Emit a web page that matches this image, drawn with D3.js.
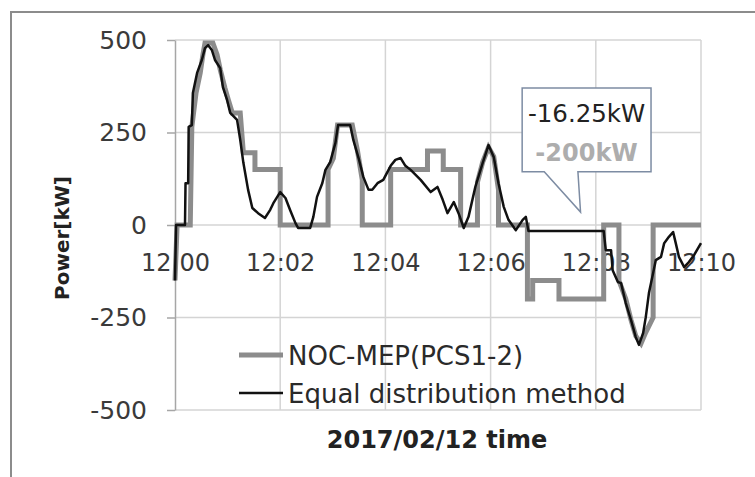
<!DOCTYPE html>
<html><head><meta charset="utf-8">
<script src="https://cdn.jsdelivr.net/npm/d3@7"></script>
<style>body{margin:0;background:#fff}svg{display:block}</style>
</head><body><svg id="c" width="755" height="477"></svg>
<script>
// ---- data (minutes after 12:00, power in kW) ----
const xTickValues = [0, 2, 4, 6, 8, 10];
const xTickLabels = ["12:00", "12:02", "12:04", "12:06", "12:08", "12:10"];
const yTickValues = [-500, -250, 0, 250, 500];
const yTickLabels = ["-500", "-250", "0", "250", "500"];
const seriesNames = ["NOC-MEP(PCS1-2)", "Equal distribution method"];
const calloutLabels = ["-16.25kW", "-200kW"];

const nocTime = [0, 0.04, 0.29, 0.32, 0.4, 0.48, 0.53, 0.57, 0.72, 0.8, 0.86, 0.95, 1.01, 1.09, 1.24, 1.3, 1.52, 1.52, 2.0, 2.0,
  2.91, 2.91, 3.01, 3.09, 3.37, 3.47, 3.56, 3.56, 4.1, 4.1, 4.8, 4.8, 5.1, 5.1, 5.43, 5.43, 5.75, 5.75, 5.85, 5.96, 6.06, 6.15, 6.15,
  6.7, 6.7, 6.8, 6.8, 7.3, 7.3, 8.15, 8.15, 8.44, 8.44, 8.57, 8.67, 8.76, 8.86, 8.95, 9.09, 9.09, 10];
const nocPower = [-150, 0, 0, 265, 357, 411, 460, 492, 492, 460, 420, 370, 340, 303, 303, 195, 195, 150, 150, 0,
  0, 150, 180, 270, 270, 200, 122, 0, 0, 150, 150, 200, 200, 150, 150, 0, 0, 116, 170, 210, 185, 95, 0,
  0, -200, -200, -150, -150, -200, -200, 0, 0, -150, -200, -257, -300, -320, -290, -250, 0, 0];

const eqTime = [0, 0.02, 0.19, 0.2, 0.25, 0.26, 0.32, 0.34, 0.42, 0.51, 0.57, 0.63, 0.7, 0.76, 0.86, 0.91, 0.99, 1.05, 1.18, 1.24,
  1.3, 1.39, 1.47, 1.58, 1.71, 1.81, 1.87, 2.0, 2.1, 2.19, 2.29, 2.34, 2.57, 2.63, 2.7, 2.8, 2.86, 2.95, 3.05, 3.1,
  3.33, 3.39, 3.49, 3.58, 3.68, 3.75, 3.85, 3.96, 4.1, 4.19, 4.29, 4.38, 4.48, 4.67, 4.86, 4.99, 5.09, 5.18, 5.3, 5.39,
  5.49, 5.58, 5.71, 5.85, 5.96, 6.06, 6.15, 6.25, 6.34, 6.48, 6.61, 6.67, 6.72, 8.15, 8.19, 8.29, 8.32, 8.42, 8.48, 8.57,
  8.67, 8.76, 8.82, 8.9, 8.95, 9.01, 9.09, 9.14, 9.24, 9.3, 9.39, 9.47, 9.52, 9.58, 9.68, 9.77, 9.87, 10.0];
const eqPower = [-150, 0, 0, 113, 113, 265, 270, 357, 411, 446, 478, 486, 473, 446, 424, 373, 338, 303, 284, 230,
  168, 95, 46, 32, 19, 41, 59, 89, 73, 40, 5, -8, -8, 22, 76, 113, 149, 170, 222, 270,
  270, 230, 181, 130, 95, 95, 113, 122, 160, 176, 181, 160, 149, 122, 89, 103, 68, 32, 62, 32,
  -8, 22, 103, 168, 216, 184, 113, 49, 14, -14, 14, 22, -16.25, -16.25, -68, -68, -122, -154, -157, -211,
  -257, -303, -324, -292, -249, -184, -130, -95, -86, -49, -32, -19, -49, -86, -114, -100, -81, -49];

// ---- layout ----
const svg = d3.select("#c");
const x = d3.scaleLinear().domain([0, 10]).range([175, 701]);
const y = d3.scaleLinear().domain([-500, 500]).range([410, 40]);
const gridColor = "#d4d4d4";
const axisColor = "#a6a6a6";

// outer chart border
svg.append("rect").attr("x", 11).attr("y", 12).attr("width", 800).attr("height", 520)
  .attr("fill", "#fff").attr("stroke", "#8c8c8c").attr("stroke-width", 2);

// gridlines
svg.append("g").selectAll("line").data(yTickValues.filter(v => v > -500)).join("line")
  .attr("x1", x(0)).attr("x2", x(10)).attr("y1", d => y(d)).attr("y2", d => y(d))
  .attr("stroke", gridColor).attr("stroke-width", 1.5);
svg.append("g").selectAll("line").data(xTickValues.filter(v => v > 0)).join("line")
  .attr("x1", d => x(d)).attr("x2", d => x(d)).attr("y1", y(500)).attr("y2", y(-500))
  .attr("stroke", gridColor).attr("stroke-width", 1.5);
svg.append("line").attr("x1", x(0)).attr("x2", x(10)).attr("y1", y(-500)).attr("y2", y(-500))
  .attr("stroke", gridColor).attr("stroke-width", 1.5);

// y axis
const yAxis = svg.append("g").attr("transform", `translate(${x(0)},0)`)
  .call(d3.axisLeft(y).tickValues(yTickValues).tickFormat((d, i) => yTickLabels[i])
    .tickSize(8).tickSizeOuter(0).tickPadding(20));
yAxis.select(".domain").attr("stroke", axisColor).attr("stroke-width", 1.5);
yAxis.selectAll(".tick line").attr("stroke", axisColor).attr("stroke-width", 1.5);
yAxis.selectAll("text").attr("font-family", "DejaVu Sans").attr("font-size", 25).attr("fill", "#3a3a3a");

// x axis labels at y=0
const xAxis = svg.append("g").attr("transform", `translate(0,${y(0)})`)
  .call(d3.axisBottom(x).tickValues(xTickValues).tickFormat((d, i) => xTickLabels[i]).tickSize(0).tickPadding(29));
xAxis.select(".domain").remove();
xAxis.selectAll("text").attr("font-family", "DejaVu Sans").attr("font-size", 24).attr("fill", "#3a3a3a");

// series
const line = d3.line().x(d => x(d[0])).y(d => y(d[1]));
const nocData = nocTime.map((t, i) => [t, nocPower[i]]);
const eqData = eqTime.map((t, i) => [t, eqPower[i]]);
svg.append("path").attr("d", line(nocData)).attr("fill", "none")
  .attr("stroke", "#8c8c8c").attr("stroke-width", 5).attr("stroke-linejoin", "miter");
svg.append("path").attr("d", line(eqData)).attr("fill", "none")
  .attr("stroke", "#111").attr("stroke-width", 2.5).attr("stroke-linejoin", "round");

// callout
const bx0 = x(6.6), bx1 = x(9.05), by0 = y(370), by1 = y(144);
const tipX = x(7.71), tipY = y(35), b1 = x(7.02), b2 = x(7.66);
svg.append("path")
  .attr("d", `M${bx0},${by0}H${bx1}V${by1}H${b2}L${tipX},${tipY}L${b1},${by1}H${bx0}Z`)
  .attr("fill", "#fff").attr("stroke", "#7d8ca3").attr("stroke-width", 1.5);
const cx = (bx0 + bx1) / 2;
svg.append("text").attr("x", cx).attr("y", 122).attr("text-anchor", "middle")
  .attr("font-family", "DejaVu Sans").attr("font-size", 24.5).attr("fill", "#222").text(calloutLabels[0]);
svg.append("text").attr("x", cx).attr("y", 161).attr("text-anchor", "middle")
  .attr("font-family", "DejaVu Sans").attr("font-weight", "bold").attr("font-size", 24)
  .attr("fill", "#adadad").text(calloutLabels[1]);

// legend
const legend = svg.append("g");
const legendRows = [{name: seriesNames[0], color: "#8c8c8c", w: 5, y: 355},
                    {name: seriesNames[1], color: "#111", w: 2.5, y: 393}];
legendRows.forEach(r => {
  legend.append("line").attr("x1", 239).attr("x2", 283).attr("y1", r.y).attr("y2", r.y)
    .attr("stroke", r.color).attr("stroke-width", r.w);
  legend.append("text").attr("x", 288).attr("y", r.y + 9.5)
    .attr("font-family", "DejaVu Sans").attr("font-size", 26).attr("fill", "#2a2a2a").text(r.name);
});

// axis titles
svg.append("text").attr("transform", "translate(62,238) rotate(-90)")
  .attr("text-anchor", "middle").attr("dominant-baseline", "central")
  .attr("font-family", "DejaVu Sans").attr("font-weight", "bold").attr("font-size", 20)
  .attr("fill", "#222").text("Power[kW]");
svg.append("text").attr("x", 437).attr("y", 448).attr("text-anchor", "middle")
  .attr("font-family", "DejaVu Sans").attr("font-weight", "bold").attr("font-size", 24)
  .attr("fill", "#222").text("2017/02/12 time");
</script></body></html>
